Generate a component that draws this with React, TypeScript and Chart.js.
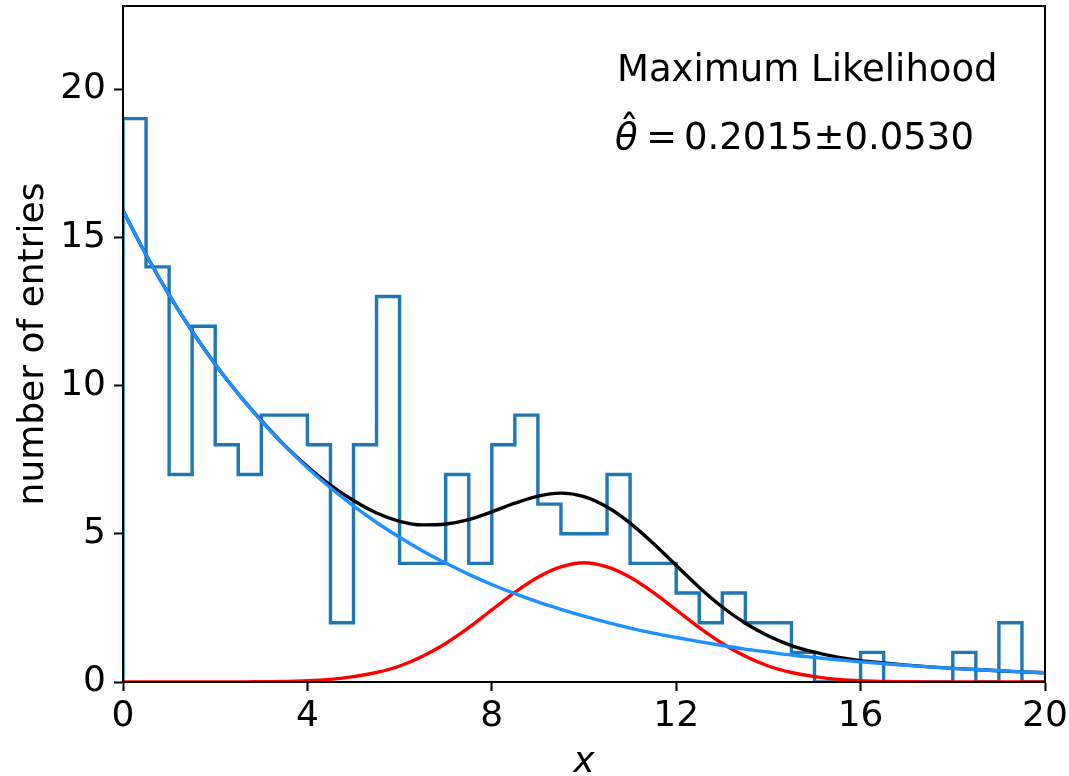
import React, { useEffect, useRef } from "react";
import { Chart, registerables } from "chart.js";

Chart.register(...registerables);

// Histogram: bin edges every 0.5 from 0 to 20, counts per bin
const binEdges: number[] = [
  0, 0.5, 1, 1.5, 2, 2.5, 3, 3.5, 4, 4.5, 5, 5.5, 6, 6.5, 7, 7.5, 8, 8.5, 9, 9.5,
  10, 10.5, 11, 11.5, 12, 12.5, 13, 13.5, 14, 14.5, 15, 15.5, 16, 16.5, 17, 17.5, 18, 18.5, 19, 19.5, 20,
];
const binCounts: number[] = [
  19, 14, 7, 12, 8, 7, 9, 9, 8, 2, 8, 13, 4, 4, 7, 4, 8, 9, 6, 5,
  5, 7, 4, 4, 3, 2, 3, 2, 2, 1, 0, 0, 1, 0, 0, 0, 1, 0, 2, 0,
];

// Curves sampled every 0.5
const curveX: number[] = binEdges;
const backgroundY: number[] = [
  15.9, 14.41, 13.06, 11.83, 10.72, 9.72, 8.81, 7.98, 7.23, 6.55, 5.94, 5.38, 4.88, 4.42, 4.01, 3.63, 3.29, 2.98, 2.7, 2.45,
  2.22, 2.01, 1.82, 1.65, 1.5, 1.36, 1.23, 1.11, 1.01, 0.91, 0.83, 0.75, 0.68, 0.62, 0.56, 0.51, 0.46, 0.42, 0.38, 0.34, 0.31,
];
const signalY: number[] = [
  0, 0, 0, 0, 0, 0, 0.01, 0.02, 0.04, 0.09, 0.18, 0.32, 0.54, 0.87, 1.3, 1.83, 2.43, 3.02, 3.53, 3.88,
  4.02, 3.88, 3.53, 3.02, 2.43, 1.83, 1.3, 0.87, 0.54, 0.32, 0.18, 0.09, 0.04, 0.02, 0.01, 0, 0, 0, 0, 0, 0,
];
const totalY: number[] = [
  15.9, 14.41, 13.06, 11.83, 10.72, 9.72, 8.82, 7.99, 7.27, 6.64, 6.12, 5.7, 5.42, 5.3, 5.33, 5.48, 5.74, 6.03, 6.27, 6.37,
  6.25, 5.9, 5.36, 4.68, 3.93, 3.19, 2.53, 1.98, 1.55, 1.23, 1.01, 0.84, 0.72, 0.64, 0.57, 0.51, 0.46, 0.42, 0.38, 0.34, 0.31,
];

const xTicks: number[] = [0, 4, 8, 12, 16, 20];
const yTicks: number[] = [0, 5, 10, 15, 20];
const xMin = 0;
const xMax = 20;
const yMin = 0;
const yMax = 22.8;

const annotationTitle = "Maximum Likelihood";
const thetaSymbol = "θ";
const thetaHat = "ˆ";
const thetaValue = "0.2015±0.0530";
const xLabel = "x";
const yLabel = "number of entries";

const FONT = "'DejaVu Sans', sans-serif";

export default function App() {
  const canvasRef = useRef<HTMLCanvasElement | null>(null);

  useEffect(() => {
    const canvas = canvasRef.current;
    if (!canvas) return;

    const histPoints: { x: number; y: number }[] = [{ x: binEdges[0], y: 0 }];
    binCounts.forEach((c, i) => histPoints.push({ x: binEdges[i], y: c }));
    histPoints.push({ x: binEdges[binEdges.length - 1], y: binCounts[binCounts.length - 1] });
    histPoints.push({ x: binEdges[binEdges.length - 1], y: 0 });

    const toPts = (ys: number[]) => curveX.map((x, i) => ({ x, y: ys[i] }));

    const framePlugin = {
      id: "frame",
      afterDraw(chart: any) {
        const { ctx, chartArea } = chart;
        ctx.save();
        ctx.strokeStyle = "#000";
        ctx.lineWidth = 2;
        ctx.strokeRect(chartArea.left, chartArea.top, chartArea.right - chartArea.left, chartArea.bottom - chartArea.top);

        ctx.fillStyle = "#000";
        ctx.textAlign = "left";
        ctx.textBaseline = "alphabetic";
        ctx.font = `37px ${FONT}`;
        ctx.fillText(annotationTitle, 617, 81);

        // theta hat line
        ctx.font = `italic 37px ${FONT}`;
        ctx.fillText(thetaSymbol, 615, 149);
        const tw = ctx.measureText(thetaSymbol).width;
        ctx.font = `40px ${FONT}`;
        ctx.textAlign = "center";
        ctx.fillText(thetaHat, 615 + tw / 2 + 3, 144);
        ctx.textAlign = "left";
        ctx.font = `37px ${FONT}`;
        ctx.fillText("=", 646, 149);
        ctx.fillText(thetaValue, 684, 149);

        // axis titles
        ctx.font = `italic 36px ${FONT}`;
        ctx.textAlign = "center";
        ctx.fillText(xLabel, (chartArea.left + chartArea.right) / 2, 772);

        ctx.font = `36px ${FONT}`;
        ctx.translate(43, (chartArea.top + chartArea.bottom) / 2);
        ctx.rotate(-Math.PI / 2);
        ctx.textAlign = "center";
        ctx.fillText(yLabel, 0, 0);
        ctx.restore();
      },
    };

    const curve = (data: any, color: string) => ({
      data,
      borderColor: color,
      borderWidth: 3.4,
      pointRadius: 0,
      tension: 0.4,
      cubicInterpolationMode: "monotone",
      fill: false,
    });

    const chart = new Chart(canvas, {
      type: "line",
      data: {
        datasets: [
          { label: "background", ...curve(toPts(backgroundY), "#1E90FF") },
          { label: "signal", ...curve(toPts(signalY), "#FF0000") },
          { label: "total", ...curve(toPts(totalY), "#000000") },
          {
            label: "histogram",
            data: histPoints,
            borderColor: "#1f77b4",
            borderWidth: 3.4,
            pointRadius: 0,
            stepped: "before",
            fill: false,
            borderJoinStyle: "miter",
          },
        ],
      } as any,
      options: {
        animation: false,
        responsive: false,
        devicePixelRatio: 1,
        layout: { padding: { left: 0, right: 24, top: 6, bottom: 0 } },
        plugins: {
          legend: { display: false },
          tooltip: { enabled: false },
        },
        scales: {
          x: {
            type: "linear",
            min: xMin,
            max: xMax,
            afterBuildTicks: (scale: any) => {
              scale.ticks = xTicks.map((v) => ({ value: v }));
            },
            afterFit: (scale: any) => {
              scale.height = 94;
              scale.paddingLeft = 0;
              scale.paddingRight = 0;
              scale.paddingTop = 0;
              scale.paddingBottom = 0;
            },
            grid: {
              drawOnChartArea: false,
              drawTicks: true,
              tickLength: 9,
              tickWidth: 2,
              tickColor: "#000",
            },
            border: { display: true, color: "#000", width: 2 },
            ticks: {
              color: "#000",
              font: { family: FONT, size: 36 },
              padding: 4,
              maxRotation: 0,
              autoSkip: false,
            },
          },
          y: {
            type: "linear",
            min: yMin,
            max: yMax,
            afterBuildTicks: (scale: any) => {
              scale.ticks = yTicks.map((v) => ({ value: v }));
            },
            afterFit: (scale: any) => {
              scale.width = 123;
              scale.paddingLeft = 0;
              scale.paddingRight = 0;
              scale.paddingTop = 0;
              scale.paddingBottom = 0;
            },
            grid: {
              drawOnChartArea: false,
              drawTicks: true,
              tickLength: 9,
              tickWidth: 2,
              tickColor: "#000",
            },
            border: { display: true, color: "#000", width: 2 },
            ticks: {
              color: "#000",
              font: { family: FONT, size: 36 },
              padding: 8,
              autoSkip: false,
            },
          },
        },
      } as any,
      plugins: [framePlugin],
    });

    return () => {
      chart.destroy();
    };
  }, []);

  return (
    <div style={{ position: "fixed", left: 0, top: 0, width: 1069, height: 776, background: "#fff" }}>
      <canvas ref={canvasRef} width={1069} height={776} style={{ width: 1069, height: 776, display: "block" }} />
    </div>
  );
}
